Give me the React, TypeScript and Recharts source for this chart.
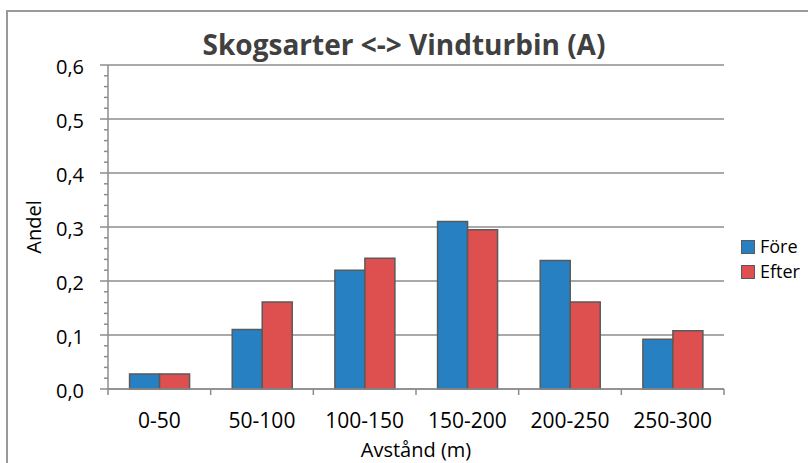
import React from 'react';
import { BarChart, Bar, XAxis, YAxis, CartesianGrid, Legend, Label } from 'recharts';

const categories = ['0-50', '50-100', '100-150', '150-200', '200-250', '250-300'];
const foreValues = [0.028, 0.11, 0.22, 0.31, 0.238, 0.092];
const efterValues = [0.028, 0.161, 0.242, 0.295, 0.161, 0.108];
const seriesNames = ['Före', 'Efter'];
const yMajorTicks = [0, 0.1, 0.2, 0.3, 0.4, 0.5, 0.6];
const yAllTicks = [
  0, 0.02, 0.04, 0.06, 0.08, 0.1, 0.12, 0.14, 0.16, 0.18, 0.2, 0.22, 0.24, 0.26, 0.28, 0.3,
  0.32, 0.34, 0.36, 0.38, 0.4, 0.42, 0.44, 0.46, 0.48, 0.5, 0.52, 0.54, 0.56, 0.58, 0.6,
];
const titleText = 'Skogsarter <-> Vindturbin (A)';
const xTitle = 'Avstånd (m)';
const yTitle = 'Andel';

const data = categories.map((c, i) => ({ cat: c, fore: foreValues[i], efter: efterValues[i] }));

const FONT = "'Open Sans', sans-serif";
const AXIS_GRAY = '#8c8c8c';
const BLUE = '#2680c1';
const RED = '#de5050';
const BAR_STROKE = '#5a5a5a';
const TEXT = '#000';

const Y_TICK_SIZE = 8;
const Y_MINOR_SIZE = 4;
const Y_TICK_MARGIN = 16;
const X_TICK_SIZE = 6;
const X_TICK_MARGIN = 26;

const isMajor = (v: number) => yMajorTicks.some((m) => Math.abs(m - v) < 1e-6);

const YTick = (props: any) => {
  const { x, y, payload } = props;
  const axisX = x + Y_TICK_SIZE + Y_TICK_MARGIN;
  const major = isMajor(payload.value);
  return (
    <g>
      <line
        x1={axisX - (major ? Y_TICK_SIZE : Y_MINOR_SIZE)}
        x2={axisX}
        y1={y}
        y2={y}
        stroke={AXIS_GRAY}
        strokeWidth={1.5}
      />
      {major && (
        <text x={x} y={y} dy={9} textAnchor="end" fontFamily={FONT} fontSize={20} fill={TEXT}>
          {payload.value.toFixed(1).replace('.', ',')}
        </text>
      )}
    </g>
  );
};

const XTick = (props: any) => {
  const { x, y, payload, index, visibleTicksCount, width } = props;
  const half =
    payload && typeof payload.offset === 'number' && payload.offset > 0
      ? payload.offset
      : width / visibleTicksCount / 2;
  const axisY = y - X_TICK_SIZE - X_TICK_MARGIN;
  return (
    <g>
      <line x1={x - half} x2={x - half} y1={axisY} y2={axisY + X_TICK_SIZE} stroke={AXIS_GRAY} strokeWidth={1.5} />
      {index === visibleTicksCount - 1 && (
        <line x1={x + half} x2={x + half} y1={axisY} y2={axisY + X_TICK_SIZE} stroke={AXIS_GRAY} strokeWidth={1.5} />
      )}
      <text x={x} y={y} dy={7} textAnchor="middle" fontFamily={FONT} fontSize={21} fill={TEXT}>
        {payload.value}
      </text>
    </g>
  );
};

const LegendContent = (props: any) => {
  const payload = [...(props.payload || [])].sort(
    (a: any, b: any) => seriesNames.indexOf(a.value) - seriesNames.indexOf(b.value)
  );
  return (
    <div style={{ display: 'flex', flexDirection: 'column', gap: 0 }}>
      {payload.map((p: any) => (
        <div
          key={p.value}
          style={{ display: 'flex', alignItems: 'center', fontFamily: FONT, fontSize: 18, color: TEXT, lineHeight: '25px', height: 25 }}
        >
          <span
            style={{
              display: 'inline-block',
              width: 12,
              height: 12,
              background: p.color,
              border: `1.5px solid ${BAR_STROKE}`,
              marginRight: 5,
            }}
          />
          {p.value}
        </div>
      ))}
    </div>
  );
};

export default function App() {
  return (
    <div
      style={{
        position: 'absolute',
        left: 0,
        top: 0,
        width: 808,
        height: 463,
        overflow: 'hidden',
        background: '#fff',
      }}
    >
      <div
        style={{
          position: 'absolute',
          left: 6,
          top: 10,
          width: 820,
          height: 480,
          border: '2px solid #9a9a9a',
        }}
      />
      <div
        style={{
          position: 'absolute',
          left: 0,
          top: 27,
          width: 808,
          textAlign: 'center',
          fontFamily: FONT,
          fontWeight: 700,
          fontSize: 28,
          lineHeight: '34px',
          color: '#404040',
        }}
      >
        {titleText}
      </div>
      <div style={{ position: 'absolute', left: 0, top: 0 }}>
        <BarChart
          width={808}
          height={463}
          data={data}
          margin={{ top: 65, right: 84, bottom: 0, left: 0 }}
          barCategoryGap="21%"
          barGap={0}
        >
          <CartesianGrid
            vertical={false}
            horizontalValues={yMajorTicks}
            stroke={AXIS_GRAY}
            strokeWidth={1.5}
          />
          <XAxis
            dataKey="cat"
            height={74}
            axisLine={{ stroke: AXIS_GRAY, strokeWidth: 1.5 }}
            tickLine={false}
            tickSize={X_TICK_SIZE}
            tickMargin={X_TICK_MARGIN}
            tick={<XTick />}
            interval={0}
          >
            <Label
              value={xTitle}
              position="insideBottom"
              offset={6}
              fontSize={20}
              style={{ fontFamily: FONT, fontSize: 20, fill: TEXT }}
            />
          </XAxis>
          <YAxis
            width={108}
            domain={[0, 0.6]}
            ticks={yAllTicks}
            interval={0}
            axisLine={{ stroke: AXIS_GRAY, strokeWidth: 1.5 }}
            tickLine={false}
            tickSize={Y_TICK_SIZE}
            tickMargin={Y_TICK_MARGIN}
            tick={<YTick />}
          >
            <Label
              value={yTitle}
              position="insideLeft"
              angle={-90}
              offset={34}
              fontSize={20}
              style={{ fontFamily: FONT, fontSize: 20, fill: TEXT, textAnchor: 'middle' }}
            />
          </YAxis>
          <Legend
            layout="horizontal"
            align="center"
            verticalAlign="middle"
            content={<LegendContent />}
            wrapperStyle={{ left: 741, top: 234, width: 'auto', height: 'auto' }}
          />
          <Bar
            dataKey="fore"
            name={seriesNames[0]}
            fill={BLUE}
            stroke={BAR_STROKE}
            strokeWidth={1.5}
            isAnimationActive={false}
          />
          <Bar
            dataKey="efter"
            name={seriesNames[1]}
            fill={RED}
            stroke={BAR_STROKE}
            strokeWidth={1.5}
            isAnimationActive={false}
          />
        </BarChart>
      </div>
    </div>
  );
}
